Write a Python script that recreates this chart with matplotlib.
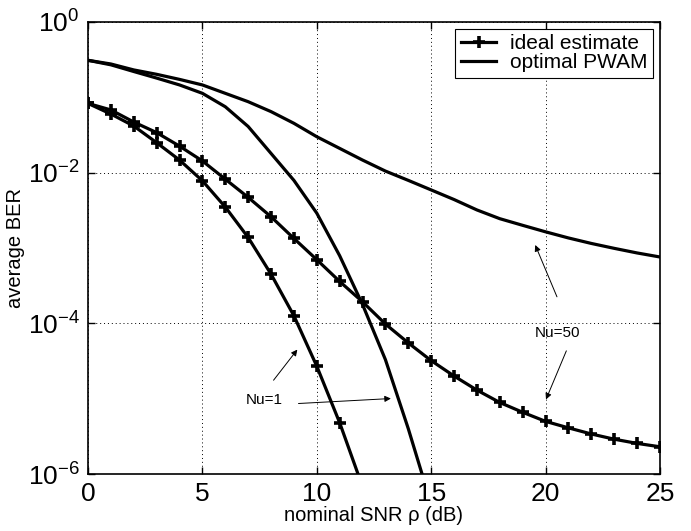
import matplotlib
matplotlib.use("Agg")
import matplotlib.pyplot as plt
import numpy as np

plt.rcParams['font.family'] = ['Liberation Sans', 'DejaVu Sans']
plt.rcParams['mathtext.fontset'] = 'custom'
plt.rcParams['mathtext.rm'] = 'Liberation Sans'
plt.rcParams['mathtext.it'] = 'Liberation Sans:italic'
plt.rcParams['mathtext.default'] = 'regular'

# SNR axis (dB)
snr_ideal_nu1 = list(range(0, 13))
snr_full = list(range(0, 26))
snr_pwam_nu1 = list(range(0, 16))

# BER, ideal channel estimate
ber_ideal_nu1 = [0.083, 0.060, 0.0416, 0.025, 0.0147, 0.0078, 0.0035, 0.00138,
                 4.5e-4, 1.26e-4, 2.7e-5, 4.8e-6, 6.8e-7]
ber_ideal_nu50 = [0.083, 0.068, 0.047, 0.034, 0.0225, 0.0143, 0.0082, 0.0047,
                  0.0026, 0.00134, 7.0e-4, 3.6e-4, 1.93e-4, 9.8e-5, 5.5e-5,
                  3.2e-5, 2.0e-5, 1.3e-5, 8.9e-6, 6.6e-6, 5.0e-6, 4.1e-6,
                  3.4e-6, 2.9e-6, 2.55e-6, 2.3e-6]

# BER, optimal PWAM
ber_pwam_nu1 = [0.31, 0.27, 0.22, 0.18, 0.146, 0.113, 0.075, 0.041, 0.018,
                0.0079, 0.0029, 7.9e-4, 1.78e-4, 3.3e-5, 4.0e-6, 4.0e-7]
ber_pwam_nu50 = [0.31, 0.277, 0.231, 0.202, 0.173, 0.146, 0.113, 0.0875,
                 0.0646, 0.0452, 0.030, 0.021, 0.0147, 0.0105, 0.0079, 0.0059,
                 0.0044, 0.0032, 0.00245, 0.0020, 0.00164, 0.00136, 0.00115,
                 9.9e-4, 8.6e-4, 7.6e-4]

x_ticks = [0, 5, 10, 15, 20, 25]
y_ticks = [1e0, 1e-2, 1e-4, 1e-6]

fig = plt.figure(figsize=(6.91, 5.31), dpi=100)
ax = fig.add_axes([0.1274, 0.1073, 0.8276, 0.8513])

lw = 2.3
mk = dict(marker='+', markersize=8, markeredgewidth=2.6)

h_ideal, = ax.semilogy(snr_full, ber_ideal_nu50, color='black', lw=lw, **mk)
ax.semilogy(snr_ideal_nu1, ber_ideal_nu1, color='black', lw=lw, **mk)
h_pwam, = ax.semilogy(snr_full, ber_pwam_nu50, color='black', lw=lw)
ax.semilogy(snr_pwam_nu1, ber_pwam_nu1, color='black', lw=lw)

ax.set_xlim(0, 25)
ax.set_ylim(1e-6, 1)
ax.set_xticks(x_ticks)
ax.set_yticks(y_ticks)
ax.yaxis.set_minor_locator(matplotlib.ticker.NullLocator())

ax.grid(True, which='major', color='black', linestyle=(0, (1, 3)), lw=0.7)
ax.tick_params(direction='in', length=5, width=1.0, top=True, right=True,
               labelsize=19, pad=6)
for s in ax.spines.values():
    s.set_linewidth(1.2)

ax.set_xlabel('nominal SNR ρ (dB)', fontsize=14.5, labelpad=0)
ax.set_ylabel('average BER', fontsize=14.5, labelpad=2)

leg = ax.legend([h_ideal, h_pwam], ['ideal estimate', 'optimal PWAM'],
                loc='upper right', fontsize=15, frameon=True, fancybox=False,
                edgecolor='black', framealpha=1, handlelength=1.7,
                borderaxespad=0.32, borderpad=0.28, labelspacing=0.0,
                handletextpad=0.65)
leg.get_frame().set_linewidth(0.8)

arrow = dict(arrowstyle='-|>', color='black', lw=0.7, mutation_scale=9,
             shrinkA=0, shrinkB=0)

ax.text(7.70, 10 ** -5.02, 'Nu=1', fontsize=11, ha='center', va='center')
ax.annotate('', xy=(9.15, 10 ** -4.348), xytext=(8.11, 10 ** -4.755),
            arrowprops=arrow)
ax.annotate('', xy=(13.24, 10 ** -4.998), xytext=(9.20, 10 ** -5.064),
            arrowprops=arrow)

ax.text(20.54, 10 ** -4.124, 'Nu=50', fontsize=11, ha='center', va='center')
ax.annotate('', xy=(19.55, 10 ** -2.96), xytext=(20.5, 10 ** -3.648),
            arrowprops=arrow)
ax.annotate('', xy=(20.02, 10 ** -5.01), xytext=(20.91, 10 ** -4.365),
            arrowprops=arrow)

fig.savefig('out.png', dpi=100)
